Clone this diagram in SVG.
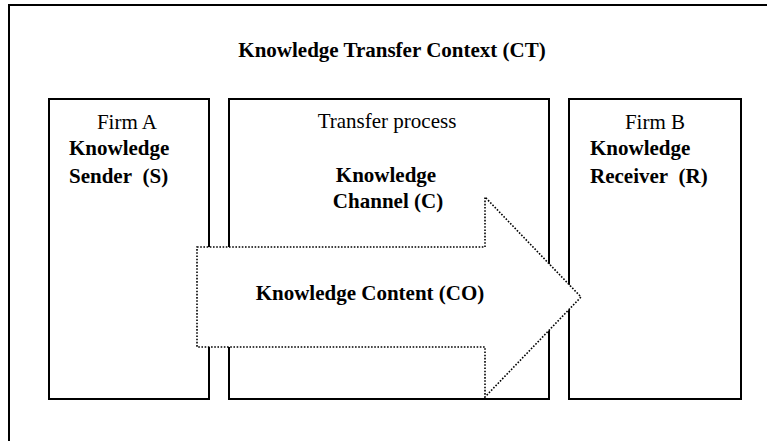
<svg xmlns="http://www.w3.org/2000/svg" width="767" height="441" viewBox="0 0 767 441" font-family="Liberation Serif">
<rect width="767" height="441" fill="#fff"/>
<g id="context">
<text x="392" y="57" font-size="21" font-weight="bold" font-family="Liberation Serif" text-anchor="middle">Knowledge Transfer Context (CT)</text>
<path d="M9,441 V5 H767" fill="none" stroke="#000" stroke-width="2"/>
</g>
<g id="sender">
<text x="127" y="129" font-size="21" font-family="Liberation Serif" text-anchor="middle">Firm A</text>
<text x="69" y="155" font-size="21" font-weight="bold" font-family="Liberation Serif">Knowledge</text>
<text x="69" y="183" font-size="21" font-weight="bold" font-family="Liberation Serif">Sender&#160; (S)</text>
<rect x="49" y="99" width="160" height="300" fill="none" stroke="#000" stroke-width="2"/>
</g>
<g id="channel">
<text x="387" y="128" font-size="21" font-family="Liberation Serif" text-anchor="middle">Transfer process</text>
<text x="386" y="182" font-size="21" font-weight="bold" font-family="Liberation Serif" text-anchor="middle">Knowledge</text>
<text x="388" y="208" font-size="21" font-weight="bold" font-family="Liberation Serif" text-anchor="middle">Channel (C)</text>
<rect x="229" y="99" width="320" height="300" fill="none" stroke="#000" stroke-width="2"/>
</g>
<g id="receiver">
<text x="655" y="129" font-size="21" font-family="Liberation Serif" text-anchor="middle">Firm B</text>
<text x="590" y="155" font-size="21" font-weight="bold" font-family="Liberation Serif">Knowledge</text>
<text x="590" y="183" font-size="21" font-weight="bold" font-family="Liberation Serif">Receiver&#160; (R)</text>
<rect x="569" y="99" width="172" height="300" fill="none" stroke="#000" stroke-width="2"/>
</g>
<g id="connectors">
<g id="content">
<path d="M197,247 H485 V197 L581,297 L485,397 V347 H197 Z" fill="#fff" stroke="#000" stroke-width="1.6" stroke-dasharray="1.6 1.6"/>
<text x="370" y="300" font-size="21" font-weight="bold" font-family="Liberation Serif" text-anchor="middle">Knowledge Content (CO)</text>
</g>
</g>
</svg>
